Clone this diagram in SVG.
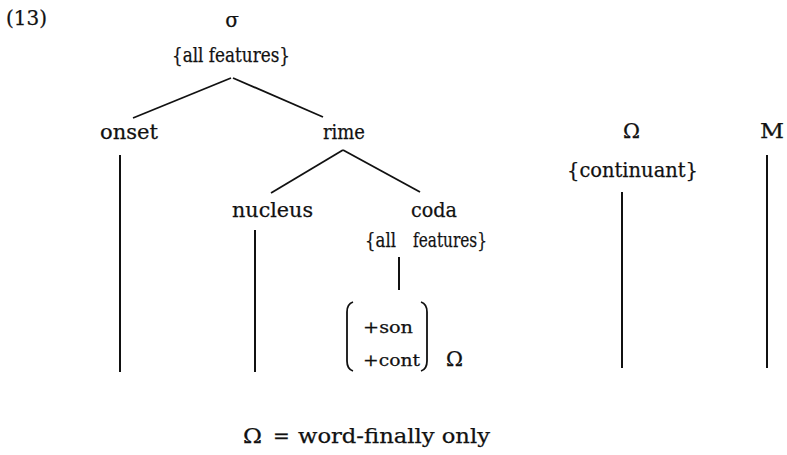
<svg xmlns="http://www.w3.org/2000/svg" width="787" height="455" viewBox="0 0 787 455">
<style>
  text { font-family: "DejaVu Serif", "Liberation Serif", serif; font-size: 20px; fill: #111; stroke: #111; stroke-width: 0.25; }
  .sm { font-size: 17px; }
  .ln { stroke: #111; stroke-width: 1.8; fill: none; stroke-linecap: butt; }
  .vl { stroke: #111; stroke-width: 2; fill: none; }
</style>
<rect width="787" height="455" fill="#fff"/>
<g id="label-13"><text x="6" y="25" textLength="41" lengthAdjust="spacingAndGlyphs">(13)</text></g>
<g id="sigma">
  <text x="232" y="27" text-anchor="middle">σ</text>
  <text x="172" y="62" textLength="118" lengthAdjust="spacingAndGlyphs">{all  features}</text>
</g>
<g id="onset"><text x="100" y="139" textLength="58" lengthAdjust="spacingAndGlyphs">onset</text></g>
<g id="rime"><text x="323" y="139" textLength="42" lengthAdjust="spacingAndGlyphs">rime</text></g>
<g id="nucleus"><text x="232" y="217" textLength="81" lengthAdjust="spacingAndGlyphs">nucleus</text></g>
<g id="coda">
  <text x="411" y="217" textLength="46" lengthAdjust="spacingAndGlyphs">coda</text>
  <text x="365" y="247" textLength="31" lengthAdjust="spacingAndGlyphs">{all</text>
  <text x="413" y="247" textLength="74" lengthAdjust="spacingAndGlyphs">features}</text>
</g>
<g id="matrix">
  <path class="ln" d="M353,302 Q347,304 347,312 L347,361 Q347,369 353,371" stroke-width="1.5"/>
  <path class="ln" d="M421,302 Q427,304 427,312 L427,361 Q427,369 421,371" stroke-width="1.5"/>
  <text class="sm" x="363" y="333" textLength="50" lengthAdjust="spacingAndGlyphs">+son</text>
  <text class="sm" x="363" y="366" textLength="57" lengthAdjust="spacingAndGlyphs">+cont</text>
  <text x="446" y="366" textLength="17" lengthAdjust="spacingAndGlyphs">Ω</text>
</g>
<g id="omega">
  <text x="623" y="138" textLength="17" lengthAdjust="spacingAndGlyphs">Ω</text>
  <text x="567" y="177" textLength="131" lengthAdjust="spacingAndGlyphs">{continuant}</text>
</g>
<g id="M"><text x="760" y="138" textLength="24" lengthAdjust="spacingAndGlyphs">M</text></g>
<g id="connectors">
  <line class="ln" x1="231" y1="78" x2="133" y2="118"/>
  <line class="ln" x1="233" y1="78" x2="323" y2="117"/>
  <line class="ln" x1="343" y1="150" x2="271" y2="193"/>
  <line class="ln" x1="343" y1="150" x2="420" y2="192"/>
  <line class="vl" x1="120" y1="155" x2="120" y2="372"/>
  <line class="vl" x1="255" y1="230" x2="255" y2="372"/>
  <line class="vl" x1="399" y1="257" x2="399" y2="290"/>
  <line class="vl" x1="622" y1="192" x2="622" y2="368"/>
  <line class="vl" x1="767" y1="155" x2="767" y2="368"/>
</g>
<g id="legend">
  <text x="243" y="443" textLength="19" lengthAdjust="spacingAndGlyphs">Ω</text>
  <text x="273" y="443">=</text>
  <text x="298" y="443" textLength="192" lengthAdjust="spacingAndGlyphs">word-finally  only</text>
</g>
</svg>
